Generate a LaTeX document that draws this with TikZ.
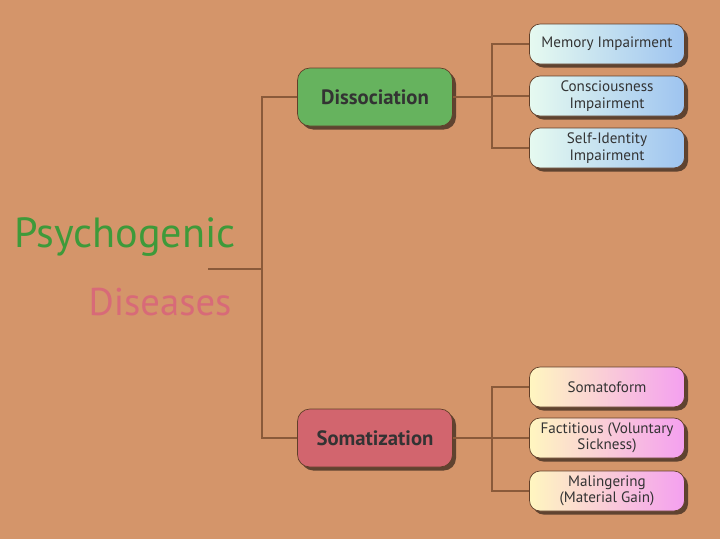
\documentclass[tikz,border=0pt]{standalone}
\usepackage{fontspec}
\setmainfont{PT Sans}
\usetikzlibrary{shadows}
\definecolor{bgbrown}{HTML}{D4956A}
\definecolor{linebrown}{HTML}{8A5A3A}
\definecolor{dissgreen}{HTML}{66B35E}
\definecolor{somared}{HTML}{D2656E}
\definecolor{titlegreen}{HTML}{3E9A3A}
\definecolor{titlepink}{HTML}{D86A78}
\definecolor{leafblue}{HTML}{9EC4F0}
\definecolor{leafmint}{HTML}{E6FAF0}
\definecolor{leafpink}{HTML}{F4A0F0}
\definecolor{leafcream}{HTML}{FFF6C0}
\tikzset{
  mainbox/.style={draw=linebrown!70!black, rounded corners=7pt, minimum width=3.1cm, minimum height=1.16cm,
    font=\bfseries\fontsize{11.8}{14}\selectfont, text=black!80, drop shadow={shadow xshift=2pt, shadow yshift=-2pt, fill=black!55!bgbrown, opacity=1}},
  leafbox/.style={draw=linebrown!70!black, rounded corners=6pt, minimum width=3.1cm, minimum height=0.8cm,
    font=\fontsize{8.6}{9.4}\selectfont, text=black!80, align=center, inner sep=1pt,
    drop shadow={shadow xshift=2pt, shadow yshift=-2pt, fill=black!55!bgbrown, opacity=1}},
  blueleaf/.style={leafbox, left color=leafmint, right color=leafblue},
  pinkleaf/.style={leafbox, left color=leafcream, right color=leafpink},
  link/.style={draw=linebrown, line width=0.6pt}
}
\begin{document}
\begin{tikzpicture}[x=0.02cm, y=-0.02cm]
    \fill[bgbrown] (0,0) rectangle (720,539);

    % title text
    \node[font=\fontsize{24}{28}\selectfont, text=titlegreen] (title) at (125,237) {Psychogenic};
    \node[font=\fontsize{22}{26}\selectfont, text=titlepink] (subtitle) at (160,302) {Diseases};
    \coordinate (root) at (208,269);
    \coordinate (trunk) at (262,269);

    % main branches
    \node[mainbox, fill=dissgreen] (diss) at (375,97) {Dissociation};
    \node[mainbox, fill=somared] (soma) at (375,438) {Somatization};

    % leaves
    \node[blueleaf] (memory) at (607,44) {Memory Impairment};
    \node[blueleaf] (conscious) at (607,96) {Consciousness\\Impairment};
    \node[blueleaf] (self) at (607,148) {Self-Identity\\Impairment};
    \node[pinkleaf] (somatoform) at (607,387) {Somatoform};
    \node[pinkleaf] (factitious) at (607,438) {Factitious (Voluntary\\Sickness)};
    \node[pinkleaf] (malinger) at (607,491) {Malingering\\(Material Gain)};

    % connectors
    \draw[link] (root) -- (trunk);
    \draw[link] (trunk) |- (diss.west);
    \draw[link] (trunk) |- (soma.west);
    \coordinate (dfork) at (492,97);
    \coordinate (sfork) at (492,438);
    \draw[link] (diss.east) -- (dfork);
    \foreach \leaf in {memory, conscious, self}
        \draw[link] (dfork) |- (\leaf.west);
    \draw[link] (soma.east) -- (sfork);
    \foreach \leaf in {somatoform, factitious, malinger}
        \draw[link] (sfork) |- (\leaf.west);
\end{tikzpicture}
\end{document}
